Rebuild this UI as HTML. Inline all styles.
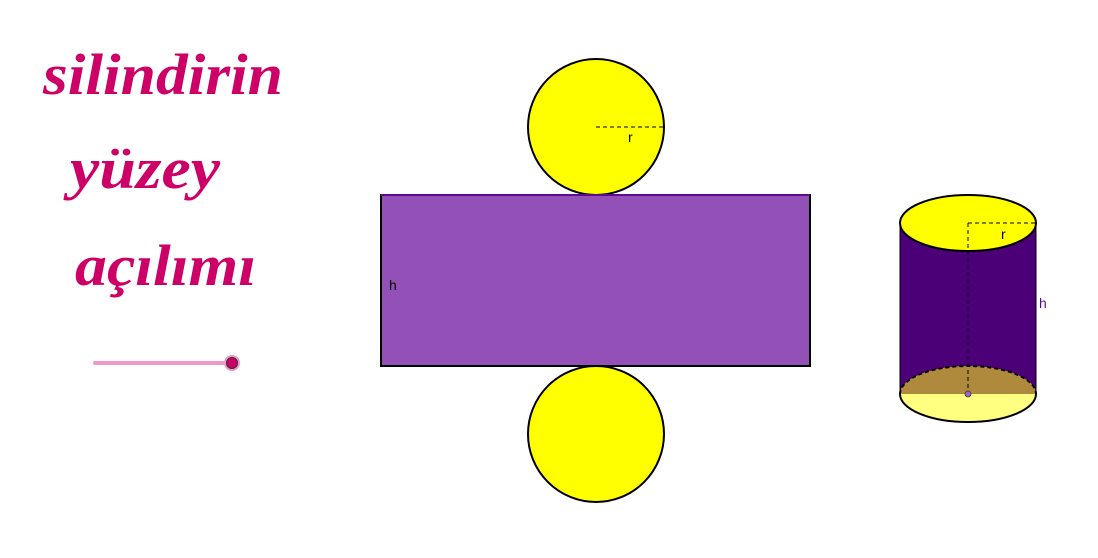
<!DOCTYPE html>
<html><head><meta charset="utf-8"><style>
body{margin:0;background:#fff;width:1098px;height:553px;overflow:hidden}
.t{font-family:"Liberation Serif",serif;font-weight:bold;font-style:italic;fill:#cc0066;font-size:58px}
</style></head><body>
<svg width="1098" height="553">
<text class="t" x="43" y="94" textLength="240" lengthAdjust="spacingAndGlyphs">silindirin</text>
<text class="t" x="70" y="188" textLength="150" lengthAdjust="spacingAndGlyphs">yüzey</text>
<text class="t" x="75" y="285" textLength="181" lengthAdjust="spacingAndGlyphs">açılımı</text>
<g>
<line x1="95" y1="363" x2="231" y2="363" stroke="#ee99c4" stroke-width="4" stroke-linecap="round"/>
<circle cx="232" cy="363" r="8" fill="#ee99c4"/>
<circle cx="232" cy="363" r="5.5" fill="#cc0066" stroke="#333" stroke-width="1"/>
</g>
<circle cx="596" cy="127" r="68" fill="#ffff00" stroke="#000" stroke-width="2"/>
<line x1="596" y1="127" x2="664" y2="127" stroke="#000" stroke-dasharray="4,3"/>
<text x="628" y="142" font-family="Liberation Sans,sans-serif" font-size="14">r</text>
<rect x="381" y="195" width="429" height="171" fill="#9350b6" stroke="#000" stroke-width="2"/>
<line x1="381" y1="195" x2="810" y2="195" stroke="#5a0d8a" stroke-width="2"/>
<text x="389" y="290" font-family="Liberation Sans,sans-serif" font-size="14">h</text>
<circle cx="596" cy="434" r="68" fill="#ffff00" stroke="#000" stroke-width="2"/>
<g>
<path d="M900 223 L900 394 A68 28 0 0 0 1036 394 L1036 223 Z" fill="#4b0078"/>
<path d="M900 394 A68 28 0 0 0 1036 394 Z" fill="#ffff80"/>
<path d="M900 394 A68 28 0 0 1 1036 394 Z" fill="#b08a3c"/>
<path d="M900 394 A68 28 0 0 1 1036 394" fill="none" stroke="#000" stroke-width="2" stroke-dasharray="4,3"/>
<path d="M900 394 A68 28 0 0 0 1036 394" fill="none" stroke="#000" stroke-width="2"/>
<line x1="900" y1="223" x2="900" y2="394" stroke="#000" stroke-width="1"/>
<line x1="1036" y1="223" x2="1036" y2="394" stroke="#000" stroke-width="1"/>
<ellipse cx="968" cy="223" rx="68" ry="28" fill="#ffff00" stroke="#000" stroke-width="2"/>
<line x1="968" y1="223" x2="1036" y2="223" stroke="#000" stroke-dasharray="4,3"/>
<line x1="968" y1="223" x2="968" y2="394" stroke="#000" stroke-dasharray="4,3"/>
<circle cx="968" cy="394" r="3" fill="#9966cc" stroke="#333" stroke-width="0.8"/>
<text x="1001" y="239" font-family="Liberation Sans,sans-serif" font-size="14">r</text>
<text x="1039" y="308" font-family="Liberation Sans,sans-serif" font-size="14" fill="#5a0d8a">h</text>
</g>
</svg>
</body></html>
